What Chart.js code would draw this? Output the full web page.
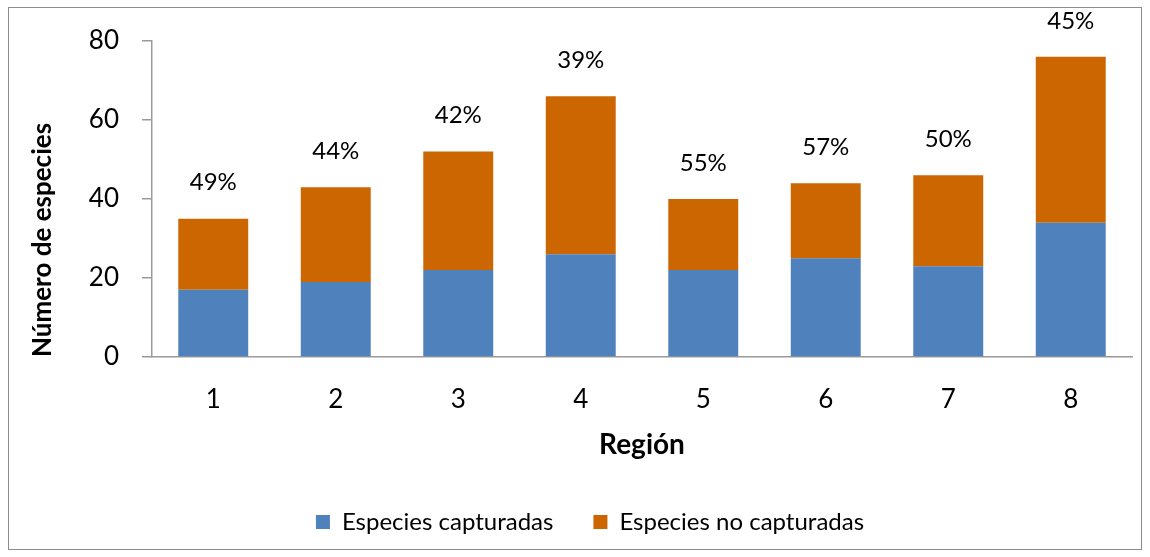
<!DOCTYPE html>
<html>
<head>
<meta charset="utf-8">
<script src="https://cdn.jsdelivr.net/npm/chart.js@4/dist/chart.umd.min.js"></script>
<style>
  html, body { margin: 0; padding: 0; background: #fff; }
  #wrap { position: relative; width: 1150px; height: 557px; }
</style>
</head>
<body>
<div id="wrap"><canvas id="c" width="1150" height="557"></canvas></div>
<script>
const categories = ["1", "2", "3", "4", "5", "6", "7", "8"];
const capturadas = [17, 19, 22, 26, 22, 25, 23, 34];
const noCapturadas = [18, 24, 30, 40, 18, 19, 23, 42];
const percentLabels = ["49%", "44%", "42%", "39%", "55%", "57%", "50%", "45%"];
const yTicks = [0, 20, 40, 60, 80];

const FONT = "Lato, 'Open Sans', sans-serif";
const AXIS_GRAY = "#9A9A9A";

const frame = {
  id: 'frame',
  beforeDraw(chart) {
    const ctx = chart.ctx;
    ctx.save();
    ctx.fillStyle = '#fff';
    ctx.fillRect(0, 0, chart.width, chart.height);
    ctx.strokeStyle = '#8C8C8C';
    ctx.lineWidth = 1;
    ctx.strokeRect(8.5, 7.5, 1133, 542);
    ctx.restore();
  }
};

const pctLabels = {
  id: 'pctLabels',
  afterDatasetsDraw(chart) {
    const ctx = chart.ctx;
    const meta = chart.getDatasetMeta(1);
    ctx.save();
    ctx.font = "24px " + FONT;
    ctx.fillStyle = '#000';
    ctx.textAlign = 'center';
    ctx.textBaseline = 'middle';
    meta.data.forEach((bar, i) => {
      ctx.fillText(percentLabels[i], bar.x, bar.y - 36);
    });
    ctx.restore();
  }
};

new Chart(document.getElementById('c'), {
  type: 'bar',
  data: {
    labels: categories,
    datasets: [
      { label: 'Especies capturadas', data: capturadas, backgroundColor: '#4F81BD', borderWidth: 0 },
      { label: 'Especies no capturadas', data: noCapturadas, backgroundColor: '#CC6600', borderWidth: 0 }
    ]
  },
  options: {
    responsive: false,
    animation: false,
    devicePixelRatio: 1,
    layout: { padding: { left: 48, right: 18, top: 41, bottom: 13 } },
    datasets: { bar: { barPercentage: 0.571, categoryPercentage: 1.0 } },
    plugins: {
      legend: {
        position: 'bottom',
        labels: {
          font: { family: FONT, size: 24 },
          color: '#000',
          boxWidth: 14,
          boxHeight: 14,
          padding: 40
        }
      },
      tooltip: { enabled: false }
    },
    scales: {
      x: {
        stacked: true,
        grid: { display: false, drawTicks: false },
        border: { display: true, color: AXIS_GRAY, width: 1.5 },
        ticks: { font: { family: FONT, size: 26 }, color: '#000', padding: 27 },
        title: {
          display: true, text: 'Región', color: '#000',
          font: { family: FONT, size: 28, weight: 'bold' },
          padding: { top: 0, bottom: 8 }
        },
        afterFit(scale) { scale.height = 113; }
      },
      y: {
        stacked: true,
        min: 0, max: 80,
        afterBuildTicks(scale) { scale.ticks = yTicks.map(v => ({ value: v })); },
        grid: { drawOnChartArea: false, drawTicks: true, tickLength: 10, color: AXIS_GRAY, lineWidth: 1.5 },
        border: { display: true, color: AXIS_GRAY, width: 1.5 },
        ticks: { font: { family: FONT, size: 26 }, color: '#000', padding: 23 },
        title: {
          display: true, text: 'Número de especies', color: '#000', align: 'start',
          font: { family: FONT, size: 26, weight: 'bold' },
          padding: { top: -20.6, bottom: 0 }
        },
        afterFit(scale) { scale.width = 104; }
      }
    }
  },
  plugins: [frame, pctLabels]
});
</script>
</body>
</html>
